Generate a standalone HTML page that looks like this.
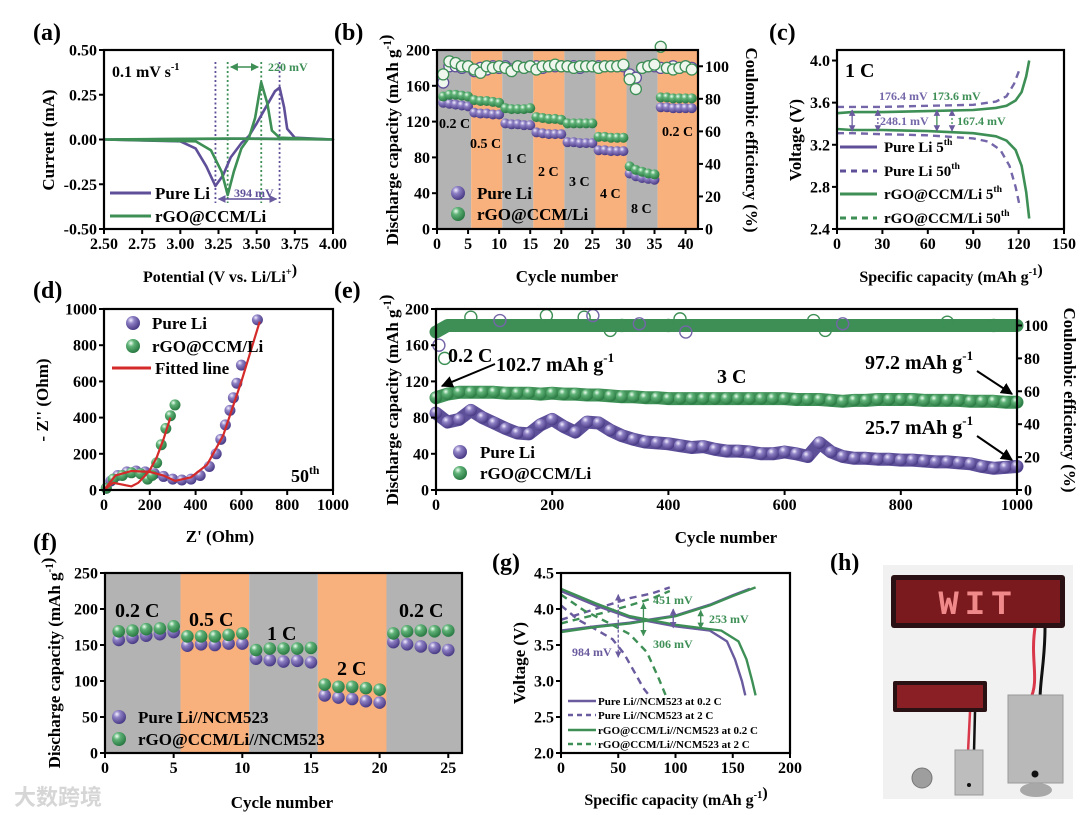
<!DOCTYPE html>
<html><head><meta charset="utf-8"><style>
html,body{margin:0;padding:0;background:#fff;}
svg{display:block;font-family:"Liberation Serif","Noto Serif CJK SC",serif;font-weight:bold;}
</style></head><body>
<svg id="fig" xmlns="http://www.w3.org/2000/svg" width="1080" height="815" viewBox="0 0 1080 815">
<defs>
<radialGradient id="gp" cx="35%" cy="30%" r="70%"><stop offset="0" stop-color="#f4f0ff"/><stop offset="0.35" stop-color="#8e80c4"/><stop offset="1" stop-color="#4a3b86"/></radialGradient>
<radialGradient id="gg" cx="35%" cy="30%" r="70%"><stop offset="0" stop-color="#effff2"/><stop offset="0.35" stop-color="#5fb277"/><stop offset="1" stop-color="#2a7a43"/></radialGradient>
<marker id="ah" viewBox="0 0 10 10" refX="9" refY="5" markerWidth="6" markerHeight="6" orient="auto"><path d="M0,0L10,5L0,10z" fill="#000"/></marker>
<marker id="ahg" viewBox="0 0 10 10" refX="9" refY="5" markerWidth="5" markerHeight="5" orient="auto-start-reverse"><path d="M0,0L10,5L0,10z" fill="#3d8f55"/></marker>
<marker id="ahp" viewBox="0 0 10 10" refX="9" refY="5" markerWidth="5" markerHeight="5" orient="auto-start-reverse"><path d="M0,0L10,5L0,10z" fill="#6a5a9e"/></marker>
</defs>
</svg>
<script>
// ---------- data ----------
// (a) CV
const cvPureV=[2.5,3.0,3.1,3.17,3.23,3.28,3.33,3.40,3.45,3.50,3.56,3.62,3.65,3.68,3.70,3.75,4.0,3.5,2.5];
const cvPureI=[0,-0.01,-0.05,-0.15,-0.26,-0.20,-0.10,-0.02,0.02,0.09,0.18,0.27,0.29,0.18,0.06,0.01,0,0.005,0];
const cvGreenV=[2.5,3.1,3.2,3.27,3.31,3.35,3.40,3.45,3.49,3.53,3.57,3.60,3.65,4.0,3.3,2.5];
const cvGreenI=[0,-0.01,-0.06,-0.18,-0.31,-0.18,-0.05,0.01,0.12,0.32,0.20,0.05,0.01,0,0.005,0];
const aXTicks=["2.50","2.75","3.00","3.25","3.50","3.75","4.00"];
const aYTicks=["-0.50","-0.25","0.00","0.25","0.50"];
// (b) rate
const bCycles=[1,2,3,4,5,6,7,8,9,10,11,12,13,14,15,16,17,18,19,20,21,22,23,24,25,26,27,28,29,30,31,32,33,34,35,36,37,38,39,40,41];
const bPure=[141,140,139,138,137,130,129,129,128,128,118,117,117,116,116,108,107,106,106,106,97,97,96,96,96,88,88,87,87,87,62,59,57,56,55,136,136,135,135,135,135];
const bGreen=[148,150,150,149,148,144,143,143,142,141,135,134,134,134,135,125,124,123,123,122,118,118,118,118,118,103,103,102,102,102,70,66,64,62,61,147,147,146,146,146,146];
const bCePure=[90,100,100,99,100,97,99,98,100,99,100,98,100,99,100,100,99,100,100,100,100,100,99,100,100,100,100,100,100,100,95,93,99,100,100,99,99,100,99,100,99];
const bCeGreen=[95,103,102,100,100,98,96,100,99,100,99,97,100,99,100,98,100,100,101,100,100,99,100,100,100,99,100,100,100,101,92,86,99,100,101,112,99,98,99,100,98];
const bBands=[[0,5.5,"g"],[5.5,10.5,"o"],[10.5,15.5,"g"],[15.5,20.5,"o"],[20.5,25.5,"g"],[25.5,30.5,"o"],[30.5,35.5,"g"],[35.5,42,"o"]];
const bXTicks=["0","5","10","15","20","25","30","35","40"];
const bYTicks=["0","40","80","120","160","200"];
const bY2Ticks=["0","20","40","60","80","100"];
// (c) voltage profiles
const cGc5Cap=[0,10,30,60,90,105,112,118,122,125,127];
const cGc5V=[3.50,3.51,3.51,3.52,3.53,3.55,3.57,3.62,3.70,3.85,4.0];
const cGd5Cap=[0,10,30,60,90,105,112,118,122,125,127];
const cGd5V=[3.35,3.34,3.34,3.33,3.31,3.28,3.24,3.15,3.0,2.75,2.5];
const cPc50Cap=[0,10,30,60,90,105,112,117,121];
const cPc50V=[3.56,3.56,3.56,3.57,3.58,3.61,3.66,3.78,3.93];
const cPd50Cap=[0,10,30,60,90,100,108,114,118,121];
const cPd50V=[3.31,3.31,3.30,3.29,3.26,3.23,3.15,3.0,2.8,2.6];
const cXTicks=["0","30","60","90","120","150"];
const cYTicks=["2.4","2.8","3.2","3.6","4.0"];
// (d) EIS
const dPureX=[10,30,60,100,140,180,220,260,300,340,380,420,460,490,510,530,550,565,580,600,670];
const dPureY=[10,50,80,100,105,100,90,75,60,55,60,80,130,200,280,360,440,510,590,690,940];
const dGreenX=[10,40,80,120,160,190,210,230,250,270,290,310];
const dGreenY=[10,60,80,95,90,60,80,150,250,340,410,470];
const dFitPX=[0,50,120,200,260,310,380,450,520,600,680];
const dFitPY=[0,80,105,100,80,50,70,140,300,600,930];
const dFitGX=[0,40,80,120,150,180,200,230,260,290];
const dFitGY=[0,40,30,20,40,80,110,180,280,400];
const dTicks=["0","200","400","600","800","1000"];
// (e) long cycling (sampled every 20 cycles)
const eCycles=[0,20,40,60,80,100,120,140,160,180,200,220,240,260,280,300,320,340,360,380,400,420,440,460,480,500,520,540,560,580,600,620,640,660,680,700,720,740,760,780,800,820,840,860,880,900,920,940,960,980,1000];
const ePure=[85,75,78,88,80,74,68,63,62,72,78,70,64,75,74,66,60,56,53,52,51,49,47,48,45,43,43,42,40,40,42,40,37,52,42,37,35,35,34,34,33,33,32,31,31,30,29,26,24,25,26];
const eGreen=[102,106,108,108,108,108,107,107,107,106,107,106,106,105,105,104,103,103,102,102,101,101,101,101,101,101,101,101,101,101,101,100,100,100,99,98,99,99,100,100,100,100,99,99,99,99,98,98,98,97,97];
const eCe=[96,100,100,100,100,100,100,100,100,100,100,100,100,100,100,100,100,100,100,100,100,100,100,100,100,100,100,100,100,100,100,100,100,100,100,100,100,100,100,100,100,100,100,100,100,100,100,100,100,100,100];
const eOutC=[5,15,60,110,190,255,270,300,320,350,400,420,430,650,670,700,880,960];
const eOutV=[88,80,105,103,106,105,106,97,100,101,100,104,96,103,97,101,102,100];
const eXTicks=["0","200","400","600","800","1000"];
const eYTicks=["0","40","80","120","160","200"];
const eY2Ticks=["0","20","40","60","80","100"];
// (f) full cell rate
const fCycles=[1,2,3,4,5,6,7,8,9,10,11,12,13,14,15,16,17,18,19,20,21,22,23,24,25];
const fPure=[157,160,163,165,168,149,151,150,152,152,131,129,127,128,126,80,77,75,72,70,154,151,148,146,143];
const fGreen=[169,170,172,173,176,162,162,162,164,166,143,145,145,145,146,95,92,92,90,88,166,169,170,169,170];
const fBands=[[0,5.5,"g"],[5.5,10.5,"o"],[10.5,15.5,"g"],[15.5,20.5,"o"],[20.5,26,"g"]];
const fXTicks=["0","5","10","15","20","25"];
const fYTicks=["0","50","100","150","200","250"];
// (g) full cell profiles
const gPdCap=[0,30,60,100,130,145,152,158,161];
const gPdV=[4.25,4.05,3.88,3.76,3.70,3.55,3.30,3.0,2.8];
const gGdCap=[0,30,60,100,140,155,162,167,170];
const gGdV=[4.28,4.08,3.90,3.78,3.70,3.55,3.30,3.0,2.8];
const gGcCap=[0,30,60,100,130,150,170];
const gGcV=[3.68,3.75,3.80,3.90,4.05,4.18,4.30];
const gPcCap=[0,30,60,100,130,150,165];
const gPcV=[3.70,3.76,3.81,3.91,4.06,4.19,4.28];
const gP2cCap=[0,20,40,60,80,95];
const gP2cV=[3.85,3.95,4.05,4.15,4.22,4.30];
const gP2dCap=[0,15,30,45,55,65,72,78];
const gP2dV=[4.05,3.85,3.72,3.58,3.38,3.10,2.90,2.78];
const gG2cCap=[0,20,40,60,80,95];
const gG2cV=[3.80,3.88,3.96,4.05,4.15,4.25];
const gG2dCap=[0,20,40,60,75,85,92];
const gG2dV=[4.20,3.98,3.82,3.65,3.40,3.05,2.78];
const gXTicks=["0","50","100","150","200"];
const gYTicks=["2.0","2.5","3.0","3.5","4.0","4.5"];

// ---------- helpers ----------
const NS="http://www.w3.org/2000/svg";
const svg=document.getElementById('fig');
const PUR="#5f4f99", GRN="#3d8f55", GRAY="#b3b3b3", ORG="#f8b07c";
function mk(tag,name,attrs,parent){
  const el=document.createElementNS(NS,tag);
  
  
  for(const k in attrs) el.setAttribute(k,attrs[k]);
  (parent||svg).appendChild(el);
  return el;
}
function txt(name,x,y,s,size,attrs,parent){
  const a=Object.assign({x:x,y:y,'font-size':size},attrs||{});
  const el=mk('text',name,a,parent);
  el.textContent=s;
  return el;
}
function sup(el,s,dy){
  const t=document.createElementNS(NS,'tspan');
  t.setAttribute('dy',dy||-7);t.setAttribute('font-size','0.65em');t.textContent=s;el.appendChild(t);
  const t2=document.createElementNS(NS,'tspan');t2.setAttribute('dy',-(dy||-7));t2.textContent='';el.appendChild(t2);
  return el;
}
function scale(d0,d1,r0,r1){return v=>r0+(v-d0)*(r1-r0)/(d1-d0);}
function pathD(xs,ys,sx,sy){return xs.map((v,i)=>(i?'L':'M')+sx(v).toFixed(1)+','+sy(ys[i]).toFixed(1)).join('');}
function frame(p,g){
  mk('rect',p.id+'-frame',{x:p.x0,y:p.y0,width:p.x1-p.x0,height:p.y1-p.y0,fill:'none',stroke:'#000','stroke-width':2.2},g);
}
function xAxis(p,labels,sx,g,fs){
  labels.forEach(l=>{const v=parseFloat(l);const x=sx(v);
    mk('line',p.id+'-x-tick',{x1:x,x2:x,y1:p.y1,y2:p.y1+5,stroke:'#000','stroke-width':2},g);
    txt(p.id+'-x-tick-label',x,p.y1+20,l,fs||16,{'text-anchor':'middle'},g);});
}
function yAxis(p,labels,sy,g,fs){
  labels.forEach(l=>{const v=parseFloat(l);const y=sy(v);
    mk('line',p.id+'-y-tick',{x1:p.x0-5,x2:p.x0,y1:y,y2:y,stroke:'#000','stroke-width':2},g);
    txt(p.id+'-y-tick-label',p.x0-7,y+5.5,l,fs||16,{'text-anchor':'end'},g);});
}
function y2Axis(p,labels,sy,g){
  labels.forEach(l=>{const v=parseFloat(l);const y=sy(v);
    mk('line',p.id+'-y2-tick',{x1:p.x1,x2:p.x1+5,y1:y,y2:y,stroke:'#000','stroke-width':2},g);
    txt(p.id+'-y2-tick-label',p.x1+7,y+5.5,l,16,{'text-anchor':'start'},g);});
}
function vTitle(name,x,y,s,g,rot,size){
  const el=txt(name,x,y,s,size||17,{'text-anchor':'middle',transform:'rotate('+(rot||-90)+' '+x+' '+y+')'},g);
  return el;
}
function sphere(name,x,y,r,grad,g){return mk('circle',name,{cx:x,cy:y,r:r,fill:'url(#'+grad+')'},g);}

// ---------- (a) ----------
(function(){
  const p={id:'cv',x0:104,x1:333,y0:50,y1:229};
  const g=mk('g','panel-a-cv',{});
  const sx=scale(2.5,4.0,p.x0,p.x1), sy=scale(-0.5,0.5,p.y1,p.y0);
  txt('panel-label-a',33,40,'(a)',24,{},g);
  [[3.31,GRN,'green'],[3.53,GRN,'green'],[3.23,PUR,'purple'],[3.65,PUR,'purple']].forEach(d=>{
    mk('line','peak-guide-'+d[2],{x1:sx(d[0]),x2:sx(d[0]),y1:62,y2:203,stroke:d[1],'stroke-width':1.8,'stroke-dasharray':'2,2.5'},g);});
  mk('path','cv-pure-li',{d:pathD(cvPureV,cvPureI,sx,sy),fill:'none',stroke:PUR,'stroke-width':2.6,'stroke-linejoin':'round'},g);
  mk('path','cv-rgo',{d:pathD(cvGreenV,cvGreenI,sx,sy),fill:'none',stroke:GRN,'stroke-width':2.6,'stroke-linejoin':'round'},g);
  mk('line','arrow-220mv',{x1:sx(3.33),x2:sx(3.51),y1:67,y2:67,stroke:GRN,'stroke-width':1.6,'marker-end':'url(#ahg)','marker-start':'url(#ahg)'},g);
  txt('label-220mv',268,71,'220 mV',12,{fill:GRN},g);
  mk('line','arrow-394mv',{x1:sx(3.25),x2:sx(3.63),y1:199,y2:199,stroke:PUR,'stroke-width':1.6,'marker-end':'url(#ahp)','marker-start':'url(#ahp)'},g);
  txt('label-394mv',234,197,'394 mV',12,{fill:PUR},g);
  const sr=txt('scan-rate-label',112,77,'0.1 mV s',16,{},g);sup(sr,'-1');
  mk('line','legend-line-pure',{x1:110,x2:151,y1:193,y2:193,stroke:PUR,'stroke-width':3},g);
  txt('legend-text-pure',155,199,'Pure Li',17,{},g);
  mk('line','legend-line-rgo',{x1:110,x2:151,y1:216,y2:216,stroke:GRN,'stroke-width':3},g);
  txt('legend-text-rgo',155,222,'rGO@CCM/Li',17,{},g);
  frame(p,g);xAxis(p,aXTicks,sx,g);yAxis(p,aYTicks,sy,g);
  vTitle('y-axis-title-a',54,140,'Current (mA)',g);
  const xt=txt('x-axis-title-a',220,282,'Potential (V vs. Li/Li',16,{'text-anchor':'middle'},g);sup(xt,'+');xt.appendChild(document.createTextNode(')'));
})();

// ---------- (b) ----------
(function(){
  const p={id:'rate',x0:437,x1:698,y0:50,y1:229};
  const g=mk('g','panel-b-rate',{});
  const sx=scale(0,42,p.x0,p.x1), sy=scale(0,200,p.y1,p.y0), sy2=scale(0,110,p.y1,p.y0);
  txt('panel-label-b',334,40,'(b)',24,{},g);
  bBands.forEach(b=>mk('rect','rate-band',{x:sx(b[0]),y:p.y0,width:sx(b[1])-sx(b[0]),height:p.y1-p.y0,fill:b[2]=='g'?GRAY:ORG},g));
  bCycles.forEach((c,i)=>mk('circle','ce-pure-point',{cx:sx(c),cy:sy2(bCePure[i]),r:5.5,fill:'#eef6ee',stroke:PUR,'stroke-width':1.3},g));
  bCycles.forEach((c,i)=>mk('circle','ce-rgo-point',{cx:sx(c),cy:sy2(bCeGreen[i]),r:5.5,fill:'#eef6ee',stroke:GRN,'stroke-width':1.3},g));
  bCycles.forEach((c,i)=>sphere('capacity-pure-point',sx(c),sy(bPure[i]),5,'gp',g));
  bCycles.forEach((c,i)=>sphere('capacity-rgo-point',sx(c),sy(bGreen[i]),5,'gg',g));
  [['0.2 C',439,128],['0.5 C',470,148],['1 C',506,163],['2 C',538,176],['3 C',569,186],['4 C',600,198],['8 C',631,213],['0.2 C',662,136]].forEach(l=>txt('rate-label',l[1],l[2],l[0],14,{},g));
  sphere('legend-sphere-pure',458,193,7,'gp',g);txt('legend-text-pure-b',477,199,'Pure Li',17,{},g);
  sphere('legend-sphere-rgo',458,214,7,'gg',g);txt('legend-text-rgo-b',477,220,'rGO@CCM/Li',17,{},g);
  frame(p,g);xAxis(p,bXTicks,sx,g);yAxis(p,bYTicks,sy,g);y2Axis(p,bY2Ticks,sy2,g);
  const yt=vTitle('y-axis-title-b',398,140,'Discharge capacity (mAh g',g);sup(yt,'-1');yt.appendChild(document.createTextNode(')'));
  vTitle('y2-axis-title-b',746,140,'Coulombic efficiency (%)',g,90);
  txt('x-axis-title-b',567,282,'Cycle number',17,{'text-anchor':'middle'},g);
})();

// ---------- (c) ----------
(function(){
  const p={id:'gcd',x0:837,x1:1064,y0:50,y1:229};
  const g=mk('g','panel-c-voltage',{});
  const sx=scale(0,150,p.x0,p.x1), sy=scale(2.4,4.1,p.y1,p.y0);
  txt('panel-label-c',769,40,'(c)',24,{},g);
  mk('path','pure-50th-charge',{d:pathD(cPc50Cap,cPc50V,sx,sy),fill:'none',stroke:'#7466a8','stroke-width':2.4,'stroke-dasharray':'7,5'},g);
  mk('path','pure-50th-discharge',{d:pathD(cPd50Cap,cPd50V,sx,sy),fill:'none',stroke:'#7466a8','stroke-width':2.4,'stroke-dasharray':'7,5'},g);
  mk('path','rgo-5th-charge',{d:pathD(cGc5Cap,cGc5V,sx,sy),fill:'none',stroke:GRN,'stroke-width':2.6},g);
  mk('path','rgo-5th-discharge',{d:pathD(cGd5Cap,cGd5V,sx,sy),fill:'none',stroke:GRN,'stroke-width':2.6},g);
  [[10,'#6a5a9e'],[27,'#6a5a9e'],[66,GRN],[76,GRN]].forEach(a=>mk('line','overpotential-arrow',{x1:sx(a[0]),x2:sx(a[0]),y1:sy(3.53),y2:sy(3.33),stroke:a[1],'stroke-width':1.3,'stroke-dasharray':a[0]==27||a[0]==76?'2,2':'none','marker-end':'url(#ahp)','marker-start':'url(#ahp)'},g));
  txt('label-176mv',879,100,'176.4 mV',12,{fill:'#7466a8'},g);
  txt('label-173mv',932,100,'173.6 mV',12,{fill:GRN},g);
  txt('label-248mv',880,125,'248.1 mV',12,{fill:'#7466a8'},g);
  txt('label-167mv',957,125,'167.4 mV',12,{fill:GRN},g);
  txt('rate-1c',845,77,'1 C',20,{},g);
  const leg=[['Pure Li 5','th',PUR,'none',147],['Pure Li 50','th',PUR,'6,5',171],['rGO@CCM/Li 5','th',GRN,'none',194],['rGO@CCM/Li 50','th',GRN,'6,5',218]];
  leg.forEach(l=>{mk('line','legend-line-c',{x1:840,x2:877,y1:l[4],y2:l[4],stroke:l[2],'stroke-width':3,'stroke-dasharray':l[3]},g);
    const t=txt('legend-text-c',884,l[4]+5,l[0],15,{},g);sup(t,l[1]);});
  frame(p,g);xAxis(p,cXTicks,sx,g);yAxis(p,cYTicks,sy,g);
  vTitle('y-axis-title-c',801,140,'Voltage (V)',g);
  const xt=txt('x-axis-title-c',951,282,'Specific capacity (mAh g',16,{'text-anchor':'middle'},g);sup(xt,'-1');xt.appendChild(document.createTextNode(')'));
})();

// ---------- (d) ----------
(function(){
  const p={id:'eis',x0:104,x1:333,y0:309,y1:490};
  const g=mk('g','panel-d-eis',{});
  const sx=scale(0,1000,p.x0,p.x1), sy=scale(0,1000,p.y1,p.y0);
  txt('panel-label-d',33,298,'(d)',24,{},g);
  dPureX.forEach((x,i)=>sphere('eis-pure-point',sx(x),sy(dPureY[i]),5.5,'gp',g));
  dGreenX.forEach((x,i)=>sphere('eis-rgo-point',sx(x),sy(dGreenY[i]),5.5,'gg',g));
  mk('path','fit-line-pure',{d:pathD(dFitPX,dFitPY,sx,sy),fill:'none',stroke:'#d42a2a','stroke-width':2.2},g);
  mk('path','fit-line-rgo',{d:pathD(dFitGX,dFitGY,sx,sy),fill:'none',stroke:'#d42a2a','stroke-width':2.2},g);
  sphere('legend-sphere-pure-d',133,323,7,'gp',g);txt('legend-text-pure-d',152,329,'Pure Li',17,{},g);
  sphere('legend-sphere-rgo-d',133,346,7,'gg',g);txt('legend-text-rgo-d',152,352,'rGO@CCM/Li',17,{},g);
  mk('line','legend-line-fit',{x1:112,x2:151,y1:368,y2:368,stroke:'#d42a2a','stroke-width':3},g);txt('legend-text-fit',155,374,'Fitted line',17,{},g);
  const c50=txt('cycle-50th-label',291,482,'50',18,{},g);sup(c50,'th',-8);
  frame(p,g);xAxis(p,dTicks,sx,g);yAxis(p,dTicks,sy,g);
  vTitle('y-axis-title-d',48,400,"- Z'' (Ohm)",g);
  txt('x-axis-title-d',220,542,"Z' (Ohm)",17,{'text-anchor':'middle'},g);
})();

// ---------- (e) ----------
(function(){
  const p={id:'long',x0:436,x1:1017,y0:309,y1:490};
  const g=mk('g','panel-e-cycling',{});
  const sx=scale(0,1000,p.x0,p.x1), sy=scale(0,200,p.y1,p.y0), sy2=scale(0,110,p.y1,p.y0);
  txt('panel-label-e',334,298,'(e)',24,{},g);
  mk('path','ce-band',{d:pathD(eCycles,eCe,sx,sy2),fill:'none',stroke:GRN,'stroke-width':13,'stroke-linecap':'round','stroke-linejoin':'round'},g);
  eOutC.forEach((c,i)=>mk('circle','ce-outlier',{cx:sx(c),cy:sy2(eOutV[i]),r:6,fill:'none',stroke:i%3==0?'#7466a8':GRN,'stroke-width':1.4},g));
  mk('path','capacity-rgo-band',{d:pathD(eCycles,eGreen,sx,sy),fill:'none',stroke:'#3f9157','stroke-width':13,'stroke-linecap':'round','stroke-linejoin':'round'},g);
  eCycles.forEach((c,i)=>sphere('capacity-rgo-point',sx(c),sy(eGreen[i]),6,'gg',g));
  mk('path','capacity-pure-band',{d:pathD(eCycles,ePure,sx,sy),fill:'none',stroke:'#5e4f99','stroke-width':13,'stroke-linecap':'round','stroke-linejoin':'round'},g);
  eCycles.forEach((c,i)=>sphere('capacity-pure-point',sx(c),sy(ePure[i]),6,'gp',g));
  txt('label-0-2c-e',448,362,'0.2 C',20,{},g);
  const t1=txt('label-102-7',496,371,'102.7 mAh g',20,{},g);sup(t1,'-1',-9);
  mk('line','arrow-102-7',{x1:495,x2:442,y1:364,y2:386,stroke:'#000','stroke-width':2,'marker-end':'url(#ah)'},g);
  txt('label-3c',717,383,'3 C',20,{},g);
  const t2=txt('label-97-2',865,369,'97.2 mAh g',20,{},g);sup(t2,'-1',-9);
  mk('line','arrow-97-2',{x1:977,x2:1012,y1:371,y2:394,stroke:'#000','stroke-width':2,'marker-end':'url(#ah)'},g);
  const t3=txt('label-25-7',865,434,'25.7 mAh g',20,{},g);sup(t3,'-1',-9);
  mk('line','arrow-25-7',{x1:977,x2:1012,y1:436,y2:460,stroke:'#000','stroke-width':2,'marker-end':'url(#ah)'},g);
  sphere('legend-sphere-pure-e',460,452,7,'gp',g);txt('legend-text-pure-e',480,458,'Pure Li',17,{},g);
  sphere('legend-sphere-rgo-e',460,473,7,'gg',g);txt('legend-text-rgo-e',480,479,'rGO@CCM/Li',17,{},g);
  frame(p,g);xAxis(p,eXTicks,sx,g);yAxis(p,eYTicks,sy,g);y2Axis(p,eY2Ticks,sy2,g);
  const yt=vTitle('y-axis-title-e',398,400,'Discharge capacity (mAh g',g);sup(yt,'-1');yt.appendChild(document.createTextNode(')'));
  vTitle('y2-axis-title-e',1064,400,'Coulombic efficiency (%)',g,90);
  txt('x-axis-title-e',726,543,'Cycle number',17,{'text-anchor':'middle'},g);
})();

// ---------- (f) ----------
(function(){
  const p={id:'full',x0:105,x1:462,y0:573,y1:753};
  const g=mk('g','panel-f-fullcell',{});
  const sx=scale(0,26,p.x0,p.x1), sy=scale(0,250,p.y1,p.y0);
  txt('panel-label-f',33,550,'(f)',24,{},g);
  fBands.forEach(b=>mk('rect','rate-band',{x:sx(b[0]),y:p.y0,width:sx(b[1])-sx(b[0]),height:p.y1-p.y0,fill:b[2]=='g'?GRAY:ORG},g));
  fCycles.forEach((c,i)=>sphere('capacity-pure-point',sx(c),sy(fPure[i]),6.3,'gp',g));
  fCycles.forEach((c,i)=>sphere('capacity-rgo-point',sx(c),sy(fGreen[i]),6.3,'gg',g));
  [['0.2 C',115,617],['0.5 C',189,626],['1 C',267,640],['2 C',337,675],['0.2 C',399,617]].forEach(l=>txt('rate-label-f',l[1],l[2],l[0],20,{},g));
  sphere('legend-sphere-pure-f',119,717,7,'gp',g);txt('legend-text-pure-f',138,723,'Pure Li//NCM523',17,{},g);
  sphere('legend-sphere-rgo-f',119,739,7,'gg',g);txt('legend-text-rgo-f',138,745,'rGO@CCM/Li//NCM523',17,{},g);
  frame(p,g);xAxis(p,fXTicks,sx,g);yAxis(p,fYTicks,sy,g);
  const yt=vTitle('y-axis-title-f',60,663,'Discharge capacity (mAh g',g);sup(yt,'-1');yt.appendChild(document.createTextNode(')'));
  txt('x-axis-title-f',282,808,'Cycle number',17,{'text-anchor':'middle'},g);
  txt('watermark',14,805,'大数跨境',22,{fill:'#d6d6d6','font-family':'"Noto Sans CJK SC",sans-serif'},g);
})();

// ---------- (g) ----------
(function(){
  const p={id:'fullv',x0:561,x1:790,y0:573,y1:753};
  const g=mk('g','panel-g-fullcell-voltage',{});
  const sx=scale(0,200,p.x0,p.x1), sy=scale(2.0,4.5,p.y1,p.y0);
  txt('panel-label-g',492,570,'(g)',24,{},g);
  const LP='#6a5a9e';
  mk('path','pure-2c-charge',{d:pathD(gP2cCap,gP2cV,sx,sy),fill:'none',stroke:LP,'stroke-width':2.4,'stroke-dasharray':'7,5'},g);
  mk('path','pure-2c-discharge',{d:pathD(gP2dCap,gP2dV,sx,sy),fill:'none',stroke:LP,'stroke-width':2.4,'stroke-dasharray':'7,5'},g);
  mk('path','rgo-2c-charge',{d:pathD(gG2cCap,gG2cV,sx,sy),fill:'none',stroke:GRN,'stroke-width':2.4,'stroke-dasharray':'7,5'},g);
  mk('path','rgo-2c-discharge',{d:pathD(gG2dCap,gG2dV,sx,sy),fill:'none',stroke:GRN,'stroke-width':2.4,'stroke-dasharray':'7,5'},g);
  mk('path','pure-02c-charge',{d:pathD(gPcCap,gPcV,sx,sy),fill:'none',stroke:LP,'stroke-width':2.4},g);
  mk('path','pure-02c-discharge',{d:pathD(gPdCap,gPdV,sx,sy),fill:'none',stroke:LP,'stroke-width':2.4},g);
  mk('path','rgo-02c-charge',{d:pathD(gGcCap,gGcV,sx,sy),fill:'none',stroke:GRN,'stroke-width':2.4},g);
  mk('path','rgo-02c-discharge',{d:pathD(gGdCap,gGdV,sx,sy),fill:'none',stroke:GRN,'stroke-width':2.4},g);
  mk('line','arrow-451',{x1:sx(72),x2:sx(72),y1:sy(4.08),y2:sy(3.63),stroke:GRN,'stroke-width':1.3,'marker-end':'url(#ahg)','marker-start':'url(#ahg)'},g);
  mk('line','arrow-253',{x1:sx(122),x2:sx(122),y1:sy(3.98),y2:sy(3.73),stroke:GRN,'stroke-width':1.3,'marker-end':'url(#ahg)','marker-start':'url(#ahg)'},g);
  mk('line','arrow-984',{x1:sx(50),x2:sx(50),y1:sy(4.2),y2:sy(3.33),stroke:LP,'stroke-width':1.3,'stroke-dasharray':'3,2','marker-end':'url(#ahp)','marker-start':'url(#ahp)'},g);
  mk('line','arrow-pure-02c',{x1:sx(98),x2:sx(98),y1:sy(4.0),y2:sy(3.74),stroke:LP,'stroke-width':1.3,'marker-end':'url(#ahp)','marker-start':'url(#ahp)'},g);
  txt('label-451mv',653,604,'451 mV',12,{fill:GRN},g);
  txt('label-253mv',709,623,'253 mV',12,{fill:GRN},g);
  txt('label-306mv',653,648,'306 mV',12,{fill:GRN},g);
  txt('label-984mv',572,656,'984 mV',12,{fill:LP},g);
  const leg=[['Pure Li//NCM523 at 0.2 C',LP,'none',701],['Pure Li//NCM523 at 2 C',LP,'5,4',715],['rGO@CCM/Li//NCM523 at 0.2 C',GRN,'none',730],['rGO@CCM/Li//NCM523 at 2 C',GRN,'5,4',744]];
  leg.forEach(l=>{mk('line','legend-line-g',{x1:568,x2:596,y1:l[3],y2:l[3],stroke:l[1],'stroke-width':2.6,'stroke-dasharray':l[2]},g);
    txt('legend-text-g',598,l[3]+4,l[0],11,{},g);});
  frame(p,g);xAxis(p,gXTicks,sx,g);yAxis(p,gYTicks,sy,g);
  vTitle('y-axis-title-g',525,663,'Voltage (V)',g);
  const xt=txt('x-axis-title-g',676,805,'Specific capacity (mAh g',16,{'text-anchor':'middle'},g);sup(xt,'-1');xt.appendChild(document.createTextNode(')'));
})();

// ---------- (h) photo ----------
(function(){
  const g=mk('g','panel-h-photo',{});
  txt('panel-label-h',830,570,'(h)',24,{},g);
  mk('rect','photo-background',{x:883,y:565,width:190,height:234,fill:'#f1f1f1'},g);
  mk('rect','large-led-display',{x:891,y:575,width:174,height:53,rx:3,fill:'#2a1214'},g);
  mk('rect','large-led-screen',{x:896,y:580,width:164,height:43,fill:'#7a1a1e'},g);
  txt('led-text-wit',978,614,'WIT',34,{'text-anchor':'middle',fill:'#f08a8a','font-family':'"Liberation Mono",monospace','letter-spacing':'6'},g);
  mk('path','wire-red-large',{d:'M1035,628 C1030,660 1040,680 1030,700',fill:'none',stroke:'#d8384a','stroke-width':3},g);
  mk('path','wire-black-large',{d:'M1045,628 C1045,660 1040,680 1040,700',fill:'none',stroke:'#111','stroke-width':3},g);
  mk('rect','small-led-display',{x:893,y:681,width:94,height:31,rx:2,fill:'#2a1214'},g);
  mk('rect','small-led-screen',{x:897,y:685,width:86,height:23,fill:'#8a2026'},g);
  mk('path','wire-small',{d:'M970,712 L968,752',fill:'none',stroke:'#d8384a','stroke-width':2.5},g);
  mk('path','wire-small-black',{d:'M975,712 L974,752',fill:'none',stroke:'#111','stroke-width':2.5},g);
  mk('rect','small-battery-box',{x:955,y:750,width:28,height:45,fill:'#bdbdbd',stroke:'#999'},g);
  mk('circle','small-box-hole',{cx:969,cy:785,r:2,fill:'#111'},g);
  mk('rect','large-battery-box',{x:1008,y:695,width:55,height:88,fill:'#b9b9b9',stroke:'#999'},g);
  mk('circle','large-box-hole',{cx:1035,cy:774,r:3.5,fill:'#111'},g);
  mk('ellipse','coin-under-large-box',{cx:1036,cy:790,rx:16,ry:7,fill:'#a8a8a8'},g);
  mk('circle','coin-cell',{cx:922,cy:778,r:10,fill:'#9e9e9e',stroke:'#777'},g);
})();
</script>
</body></html>
